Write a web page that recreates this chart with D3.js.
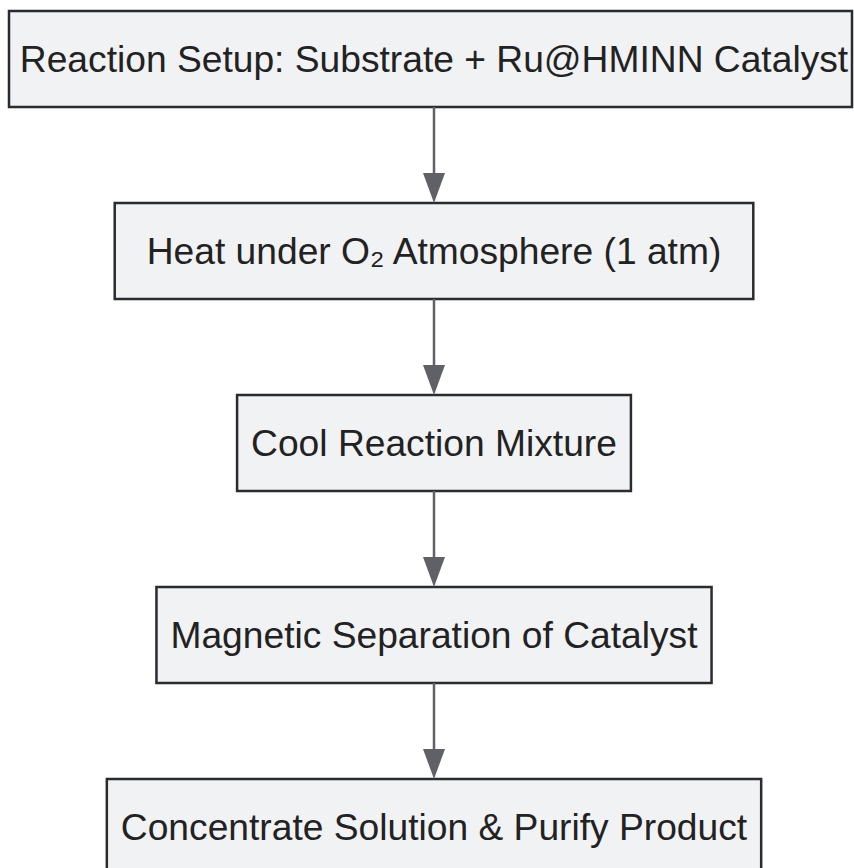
<!DOCTYPE html>
<html>
<head>
<meta charset="utf-8">
<script src="https://cdn.jsdelivr.net/npm/d3@7"></script>
<style>
    body { margin: 0; background: #ffffff; }
    .stepBox { fill: #f1f2f4; stroke: #2a2b2e; stroke-width: 2.5; }
    .stepText { font-family: "Liberation Sans", Arial, sans-serif; font-size: 37.2px; fill: #222222; }
    .flowLine { stroke: #5f6166; stroke-width: 2.5; }
    .flowHead { fill: #5f6166; }
</style>
</head>
<body>
<script>
//flow steps, top to bottom
var steps = [
    "Reaction Setup: Substrate + Ru@HMINN Catalyst",
    "Heat under O\u2082 Atmosphere (1 atm)",
    "Cool Reaction Mixture",
    "Magnetic Separation of Catalyst",
    "Concentrate Solution & Purify Product"
];

//links between steps (from index, to index)
var links = [[0, 1], [1, 2], [2, 3], [3, 4]];

window.onload = drawFlow();

function drawFlow(){
    //frame dimensions
    var width = 854,
        height = 868;

    var svg = d3.select("body")
        .append("svg")
        .attr("width", width)
        .attr("height", height);

    //box geometry
    var boxH = 96,
        padX = 14,
        centerX = 434,
        minX = 9,
        maxX = 852;

    //vertical band per step
    var y = d3.scaleBand()
        .domain(d3.range(steps.length))
        .range([11, 11 + 192 * steps.length])
        .paddingInner(0)
        .align(0);

    var nodes = svg.selectAll(".step")
        .data(steps)
        .enter()
        .append("g")
        .attr("class", "step")
        .attr("transform", function(d, i){ return "translate(0," + y(i) + ")"; });

    var rects = nodes.append("rect")
        .attr("class", "stepBox");

    var labels = nodes.append("text")
        .attr("class", "stepText")
        .attr("x", centerX)
        .attr("y", boxH / 2)
        .attr("dy", "0.36em")
        .attr("text-anchor", "middle")
        .text(function(d){ return d; });

    //size the boxes from the text (subscript label gets measured wider)
    labels.each(function(d, i){
        var pad = d.indexOf("\u2082") >= 0 ? padX + 18 : padX;
        var w = this.getComputedTextLength() + pad * 2;
        var x0 = Math.max(minX, centerX - w / 2),
            x1 = Math.min(maxX, centerX + w / 2);
        d3.select(rects.nodes()[i])
            .attr("x", x0)
            .attr("y", 0)
            .attr("width", x1 - x0)
            .attr("height", boxH);
    });

    //connectors
    var headH = 30,
        headW = 22;

    var arrows = svg.selectAll(".arrow")
        .data(links)
        .enter()
        .append("g")
        .attr("class", "arrow");

    arrows.append("line")
        .attr("class", "flowLine")
        .attr("x1", centerX)
        .attr("x2", centerX)
        .attr("y1", function(d){ return y(d[0]) + boxH; })
        .attr("y2", function(d){ return y(d[1]) - headH + 2; });

    arrows.append("path")
        .attr("class", "flowHead")
        .attr("d", function(d){
            var tip = y(d[1]);
            return "M" + (centerX - headW / 2) + "," + (tip - headH) +
                "L" + (centerX + headW / 2) + "," + (tip - headH) +
                "L" + centerX + "," + tip + "Z";
        });
};
</script>
</body>
</html>
